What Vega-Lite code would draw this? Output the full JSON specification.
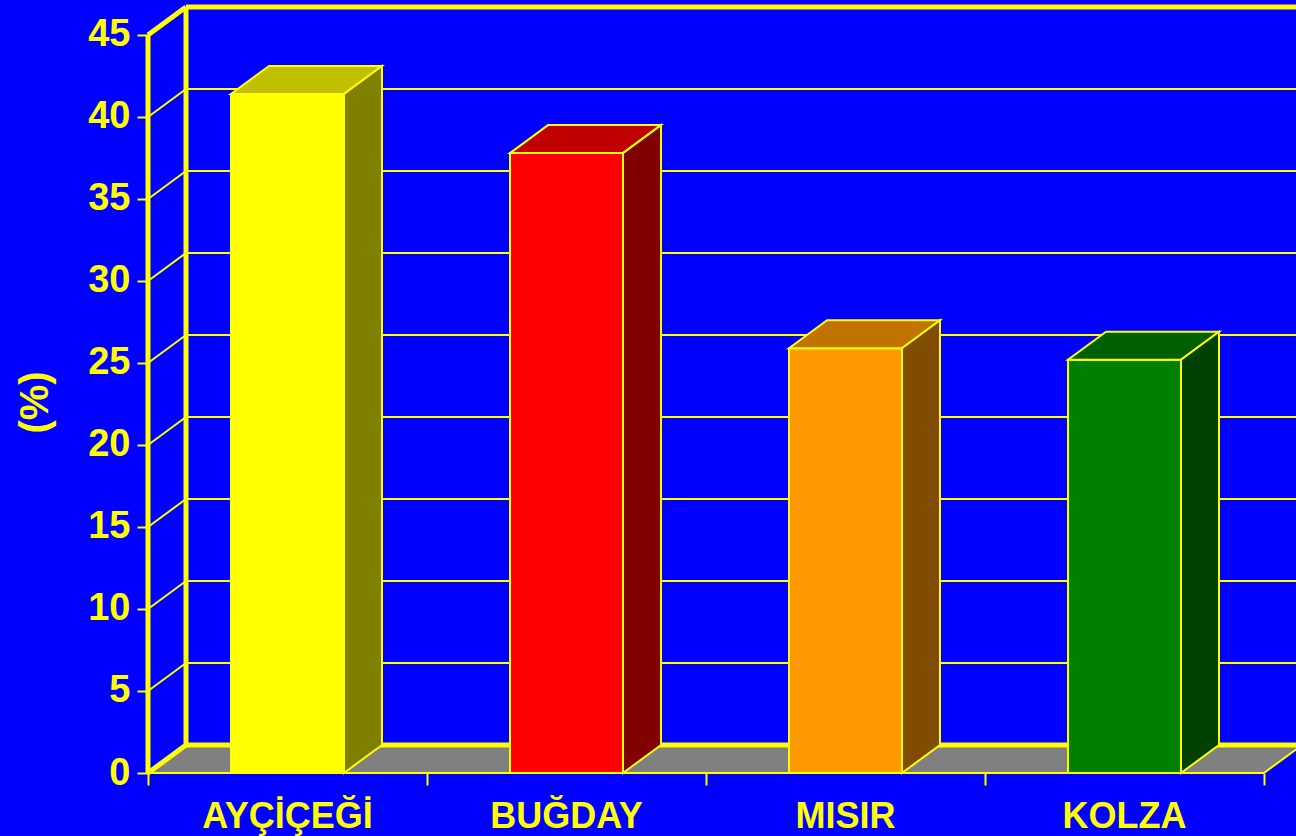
{
  "$schema": "https://vega.github.io/schema/vega-lite/v6.json",
  "width": 1148,
  "height": 765,
  "autosize": {"type": "none"},
  "padding": {"left": 148, "top": 8, "right": 0, "bottom": 63},
  "background": "#0000ff",
  "config": {"view": {"stroke": null}, "font": "Liberation Sans"},
  "datasets": {
    "crops": [
      {"crop": "AYÇİÇEĞİ", "value": 41.4},
      {"crop": "BUĞDAY", "value": 37.8},
      {"crop": "MISIR", "value": 25.9},
      {"crop": "KOLZA", "value": 25.2}
    ],
    "levels": [
      {"v": 0}, {"v": 5}, {"v": 10}, {"v": 15}, {"v": 20},
      {"v": 25}, {"v": 30}, {"v": 35}, {"v": 40}, {"v": 45}
    ]
  },
  "resolve": {"scale": {"fill": "independent"}},
  "encoding": {
    "x": {
      "field": "px", "type": "quantitative",
      "scale": {"domain": [0, 4.1147], "nice": false, "zero": false},
      "axis": {
        "values": [0, 1, 2, 3, 4], "labels": false, "domain": false, "grid": false,
        "tickSize": 12, "tickColor": "#ffff00", "tickWidth": 2, "title": null
      }
    },
    "y": {
      "field": "py", "type": "quantitative",
      "scale": {"domain": [0, 46.646], "nice": false, "zero": false},
      "axis": {
        "values": [0, 5, 10, 15, 20, 25, 30, 35, 40, 45],
        "domain": false, "grid": false,
        "tickSize": 11, "tickColor": "#ffff00", "tickWidth": 2,
        "labelColor": "#ffff00", "labelFont": "Liberation Sans", "labelFontWeight": "bold",
        "labelFontSize": 38, "labelPadding": 7, "labelOverlap": false,
        "title": "(%)", "titleColor": "#ffff00", "titleFont": "Liberation Sans",
        "titleFontSize": 40, "titleFontWeight": "bold",
        "titleX": -113, "titleY": 394, "titleAngle": -90,
        "titleAlign": "center", "titleBaseline": "middle"
      }
    }
  },
  "layer": [
    {
      "data": {"name": "levels"},
      "transform": [
        {"filter": "datum.v == 0"},
        {"calculate": "[0, 1]", "as": "e"},
        {"flatten": ["e"]},
        {"calculate": "datum.e * 1.7073", "as": "py"},
        {"calculate": "datum.e * 0.1362", "as": "px"},
        {"calculate": "4 + datum.e * 0.1362", "as": "px2"}
      ],
      "mark": {"type": "area", "orient": "horizontal", "color": "#808080"},
      "encoding": {"x2": {"field": "px2"}}
    },
    {
      "data": {"name": "levels"},
      "transform": [
        {"filter": "datum.v > 0 && datum.v < 45"},
        {"calculate": "datum.v + 1.7073", "as": "py"},
        {"calculate": "0.1362", "as": "px"},
        {"calculate": "4.3", "as": "px2"}
      ],
      "mark": {"type": "rule", "color": "#ffff00", "strokeWidth": 2},
      "encoding": {"x2": {"field": "px2"}}
    },
    {
      "data": {"name": "levels"},
      "transform": [
        {"filter": "datum.v > 0 && datum.v < 45"},
        {"calculate": "datum.v", "as": "py"},
        {"calculate": "datum.v + 1.7073", "as": "py2"},
        {"calculate": "0", "as": "px"},
        {"calculate": "0.1362", "as": "px2"}
      ],
      "mark": {"type": "rule", "color": "#ffff00", "strokeWidth": 2},
      "encoding": {"x2": {"field": "px2"}, "y2": {"field": "py2"}}
    },
    {
      "data": {"name": "levels"},
      "transform": [
        {"filter": "datum.v == 0 || datum.v == 45"},
        {"calculate": "datum.v", "as": "py"},
        {"calculate": "datum.v + 1.7073", "as": "py2"},
        {"calculate": "0", "as": "px"},
        {"calculate": "0.1362", "as": "px2"}
      ],
      "mark": {"type": "rule", "color": "#ffff00", "strokeWidth": 5},
      "encoding": {"x2": {"field": "px2"}, "y2": {"field": "py2"}}
    },
    {
      "data": {"name": "levels"},
      "transform": [
        {"filter": "datum.v == 0 || datum.v == 45"},
        {"calculate": "datum.v + 1.7073", "as": "py"},
        {"calculate": "0.1362", "as": "px"},
        {"calculate": "4.3", "as": "px2"}
      ],
      "mark": {"type": "rule", "color": "#ffff00", "strokeWidth": 5},
      "encoding": {"x2": {"field": "px2"}}
    },
    {
      "data": {"name": "levels"},
      "transform": [
        {"filter": "datum.v == 45"},
        {"calculate": "1.7073", "as": "py"},
        {"calculate": "datum.v + 1.7073", "as": "py2"},
        {"calculate": "0.1362", "as": "px"}
      ],
      "mark": {"type": "rule", "color": "#ffff00", "strokeWidth": 5},
      "encoding": {"y2": {"field": "py2"}}
    },
    {
      "data": {"name": "levels"},
      "transform": [
        {"filter": "datum.v == 45"},
        {"calculate": "0", "as": "py"},
        {"calculate": "datum.v", "as": "py2"},
        {"calculate": "0", "as": "px"}
      ],
      "mark": {"type": "rule", "color": "#ffff00", "strokeWidth": 5},
      "encoding": {"y2": {"field": "py2"}}
    },
    {
      "data": {"name": "levels"},
      "transform": [
        {"filter": "datum.v == 0"},
        {"calculate": "datum.v", "as": "py"},
        {"calculate": "0", "as": "px"},
        {"calculate": "4", "as": "px2"}
      ],
      "mark": {"type": "rule", "color": "#ffff00", "strokeWidth": 2},
      "encoding": {"x2": {"field": "px2"}}
    },
    {
      "data": {"name": "levels"},
      "transform": [
        {"filter": "datum.v == 0"},
        {"calculate": "datum.v", "as": "py"},
        {"calculate": "datum.v + 1.7073", "as": "py2"},
        {"calculate": "4", "as": "px"},
        {"calculate": "4.1362", "as": "px2"}
      ],
      "mark": {"type": "rule", "color": "#ffff00", "strokeWidth": 2},
      "encoding": {"x2": {"field": "px2"}, "y2": {"field": "py2"}}
    },
    {
      "data": {"name": "crops"},
      "transform": [
        {"window": [{"op": "row_number", "as": "rn"}]},
        {"calculate": "datum.rn - 1 + 0.2975", "as": "px"},
        {"calculate": "datum.rn - 1 + 0.7025", "as": "px2"},
        {"calculate": "datum.value", "as": "py"},
        {"calculate": "0", "as": "py2"}
      ],
      "mark": {"type": "rect", "stroke": "#ffff00", "strokeWidth": 2},
      "encoding": {
        "x2": {"field": "px2"},
        "y2": {"field": "py2"},
        "fill": {
          "field": "crop", "type": "nominal", "legend": null,
          "scale": {"domain": ["AYÇİÇEĞİ", "BUĞDAY", "MISIR", "KOLZA"], "range": ["#ffff00", "#ff0000", "#ff9900", "#008000"]}
        }
      }
    },
    {
      "data": {"name": "crops"},
      "transform": [
        {"window": [{"op": "row_number", "as": "rn"}]},
        {"calculate": "[0, 1]", "as": "e"},
        {"flatten": ["e"]},
        {"calculate": "datum.value + datum.e * 1.7073", "as": "py"},
        {"calculate": "datum.rn - 1 + 0.2975 + datum.e * 0.1362", "as": "px"},
        {"calculate": "datum.rn - 1 + 0.7025 + datum.e * 0.1362", "as": "px2"}
      ],
      "mark": {"type": "area", "orient": "horizontal", "stroke": "#ffff00", "strokeWidth": 2},
      "encoding": {
        "x2": {"field": "px2"},
        "detail": {"field": "crop", "type": "nominal"},
        "fill": {
          "field": "crop", "type": "nominal", "legend": null,
          "scale": {"domain": ["AYÇİÇEĞİ", "BUĞDAY", "MISIR", "KOLZA"], "range": ["#c0c000", "#c00000", "#c07300", "#006000"]}
        }
      }
    },
    {
      "data": {"name": "crops"},
      "transform": [
        {"window": [{"op": "row_number", "as": "rn"}]},
        {"calculate": "[0, 1]", "as": "e"},
        {"flatten": ["e"]},
        {"calculate": "datum.e * 1.7073", "as": "py"},
        {"calculate": "datum.value + datum.e * 1.7073", "as": "py2"},
        {"calculate": "datum.rn - 1 + 0.7025 + datum.e * 0.1362", "as": "px"}
      ],
      "mark": {"type": "area", "orient": "vertical", "stroke": "#ffff00", "strokeWidth": 2},
      "encoding": {
        "y2": {"field": "py2"},
        "detail": {"field": "crop", "type": "nominal"},
        "fill": {
          "field": "crop", "type": "nominal", "legend": null,
          "scale": {"domain": ["AYÇİÇEĞİ", "BUĞDAY", "MISIR", "KOLZA"], "range": ["#808000", "#800000", "#804c00", "#004000"]}
        }
      }
    },
    {
      "data": {"name": "crops"},
      "transform": [
        {"window": [{"op": "row_number", "as": "rn"}]},
        {"calculate": "datum.rn - 0.5", "as": "px"},
        {"calculate": "0", "as": "py"}
      ],
      "mark": {"type": "text", "color": "#ffff00", "font": "Liberation Sans", "fontWeight": "bold", "fontSize": 36, "baseline": "alphabetic", "align": "center", "dy": 55},
      "encoding": {
        "text": {"field": "crop", "type": "nominal"}
      }
    }
  ]
}
